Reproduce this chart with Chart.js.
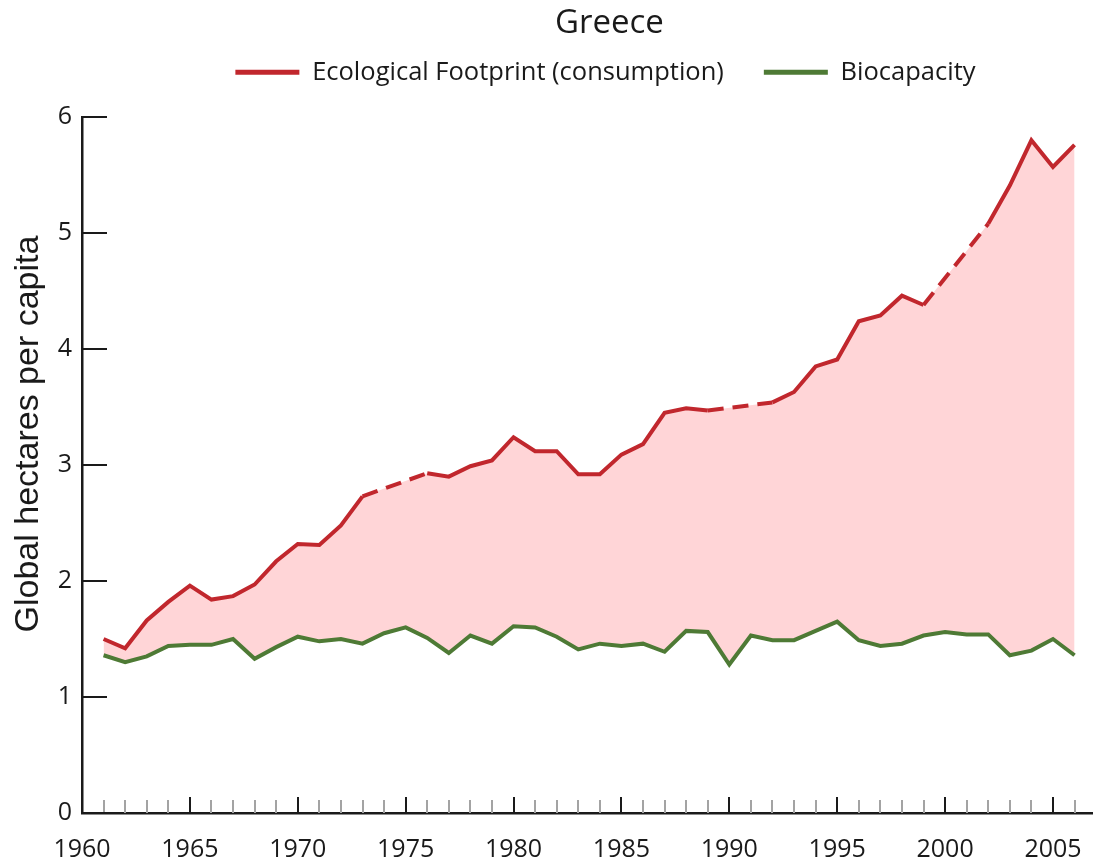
<!DOCTYPE html>
<html>
<head>
<meta charset="utf-8">
<title>Greece - Ecological Footprint</title>
<script src="https://cdn.jsdelivr.net/npm/chart.js@4.4.1/dist/chart.umd.min.js"></script>
<style>
  html, body { margin: 0; padding: 0; background: #fff; }
  #wrap { width: 1104px; height: 866px; }
</style>
</head>
<body>
<div id="wrap"><canvas id="footprintChart" width="1104" height="866"></canvas></div>
<script>
// Greece: footprint vs biocapacity, global hectares per capita
const years = [1961, 1962, 1963, 1964, 1965, 1966, 1967, 1968, 1969, 1970,
               1971, 1972, 1973, 1974, 1975, 1976, 1977, 1978, 1979, 1980,
               1981, 1982, 1983, 1984, 1985, 1986, 1987, 1988, 1989, 1990,
               1991, 1992, 1993, 1994, 1995, 1996, 1997, 1998, 1999, 2000,
               2001, 2002, 2003, 2004, 2005, 2006];

// null = no data for that year (drawn dashed across the gap)
const footprint = [1.50, 1.42, 1.66, 1.82, 1.96, 1.84, 1.87, 1.97, 2.17, 2.32,
                   2.31, 2.48, 2.73, null, null, 2.93, 2.90, 2.99, 3.04, 3.24,
                   3.12, 3.12, 2.92, 2.92, 3.09, 3.18, 3.45, 3.49, 3.47, null,
                   null, 3.54, 3.63, 3.85, 3.91, 4.24, 4.29, 4.46, 4.38, null,
                   null, 5.08, 5.41, 5.80, 5.57, 5.76];

const biocapacity = [1.36, 1.30, 1.35, 1.44, 1.45, 1.45, 1.50, 1.33, 1.43, 1.52,
                     1.48, 1.50, 1.46, 1.55, 1.60, 1.51, 1.38, 1.53, 1.46, 1.61,
                     1.60, 1.52, 1.41, 1.46, 1.44, 1.46, 1.39, 1.57, 1.56, 1.28,
                     1.53, 1.49, 1.49, 1.57, 1.65, 1.49, 1.44, 1.46, 1.53, 1.56,
                     1.54, 1.54, 1.36, 1.40, 1.50, 1.36];

const labelYears = [1960, 1965, 1970, 1975, 1980, 1985, 1990, 1995, 2000, 2005];
const yTicks = [0, 1, 2, 3, 4, 5, 6];

const RED = '#C1272D';
const GREEN = '#4E7A35';
const PINK = '#FFD5D7';
const TEXT = '#1a1a1a';
const TICK_FONT = { family: 'Open Sans', size: 25 };

const toPoints = vals => years.map((yr, i) => ({ x: yr, y: vals[i] }));
const gapDash = ctx => (ctx.p0.skip || ctx.p1.skip) ? [16, 9] : undefined;

// nudge a box sideways when it is drawn
const shiftDraw = (box, dx) => {
  const draw = box.draw;
  box.draw = function () {
    this.ctx.save();
    this.ctx.translate(dx, 0);
    draw.apply(this, arguments);
    this.ctx.restore();
  };
};

// tick marks point into the plot, plus the rotated y title
const innerTicks = {
  id: 'innerTicks',
  afterInit(chart) {
    // push the legend up under the title without moving the plot
    const fit = chart.legend.fit;
    chart.legend.fit = function () {
      fit.call(this);
      this.height += 22;
    };
    shiftDraw(chart.legend, 18);
    shiftDraw(chart.titleBlock, 22);
  },
  afterDraw(chart) {
    const { ctx, chartArea, scales: { x, y } } = chart;
    ctx.save();
    ctx.lineWidth = 2;
    years.forEach(yr => {
      const major = yr % 5 === 0;
      const px = Math.round(x.getPixelForValue(yr));
      ctx.strokeStyle = major ? TEXT : '#a3a3a3';
      ctx.beginPath();
      ctx.moveTo(px, chartArea.bottom);
      ctx.lineTo(px, chartArea.bottom - (major ? 16 : 13));
      ctx.stroke();
    });
    ctx.strokeStyle = TEXT;
    yTicks.forEach(v => {
      const py = Math.round(y.getPixelForValue(v));
      ctx.beginPath();
      ctx.moveTo(chartArea.left, py);
      ctx.lineTo(chartArea.left + 25, py);
      ctx.stroke();
    });
    ctx.translate(29, (chartArea.top + chartArea.bottom) / 2 - 31);
    ctx.rotate(-Math.PI / 2);
    ctx.font = '34px "Liberation Sans"';
    ctx.fillStyle = TEXT;
    ctx.textAlign = 'center';
    ctx.textBaseline = 'middle';
    ctx.fillText('Global hectares per capita', 0, 0);
    ctx.restore();
  }
};

new Chart(document.getElementById('footprintChart'), {
  type: 'line',
  data: {
    datasets: [
      {
        label: 'Ecological Footprint (consumption)',
        data: toPoints(footprint),
        borderColor: RED,
        backgroundColor: RED,
        borderWidth: 4,
        pointRadius: 0,
        tension: 0,
        spanGaps: true,
        fill: false,
        segment: { borderDash: gapDash }
      },
      {
        label: 'Biocapacity',
        data: toPoints(biocapacity),
        borderColor: GREEN,
        backgroundColor: GREEN,
        borderWidth: 4,
        pointRadius: 0,
        tension: 0,
        fill: false
      },
      {
        // pink band between the two curves (same footprint data, no stroke)
        label: 'deficit',
        data: toPoints(footprint),
        borderWidth: 0,
        borderColor: 'rgba(0,0,0,0)',
        backgroundColor: PINK,
        pointRadius: 0,
        tension: 0,
        spanGaps: true,
        fill: 1
      }
    ]
  },
  options: {
    responsive: false,
    animation: false,
    layout: { padding: 0 },
    plugins: {
      filler: { drawTime: 'beforeDatasetsDraw' },
      tooltip: { enabled: false },
      title: {
        display: true,
        text: 'Greece',
        fullSize: false,
        color: TEXT,
        font: { family: 'Open Sans', size: 33, weight: 'normal' },
        padding: { top: 4, bottom: -24 }
      },
      legend: {
        display: true,
        fullSize: false,
        labels: {
          color: TEXT,
          font: { family: 'Open Sans', size: 25.5 },
          boxWidth: 64,
          boxHeight: 5,
          padding: 40,
          filter: item => item.datasetIndex < 2,
          generateLabels(chart) {
            return Chart.defaults.plugins.legend.labels.generateLabels(chart).map(item => {
              item.fillStyle = item.strokeStyle;
              item.lineWidth = 0;
              item.lineDash = [];
              return item;
            });
          }
        }
      }
    },
    scales: {
      x: {
        type: 'linear',
        min: 1960,
        max: 2006.85,
        afterBuildTicks: scale => { scale.ticks = labelYears.map(v => ({ value: v })); },
        afterFit: scale => { scale.height = 53; },
        grid: { display: false, drawTicks: false },
        border: { display: true, color: TEXT, width: 2.5 },
        ticks: {
          color: TEXT,
          font: TICK_FONT,
          padding: 22,
          maxRotation: 0,
          autoSkip: false,
          callback: v => String(v)
        }
      },
      y: {
        min: 0,
        max: 6,
        afterBuildTicks: scale => { scale.ticks = yTicks.map(v => ({ value: v })); },
        afterFit: scale => { scale.width = 82; },
        grid: { display: false, drawTicks: false },
        border: { display: true, color: TEXT, width: 2.5 },
        ticks: {
          color: TEXT,
          font: TICK_FONT,
          padding: 10
        }
      }
    }
  },
  plugins: [innerTicks]
});
</script>
</body>
</html>
